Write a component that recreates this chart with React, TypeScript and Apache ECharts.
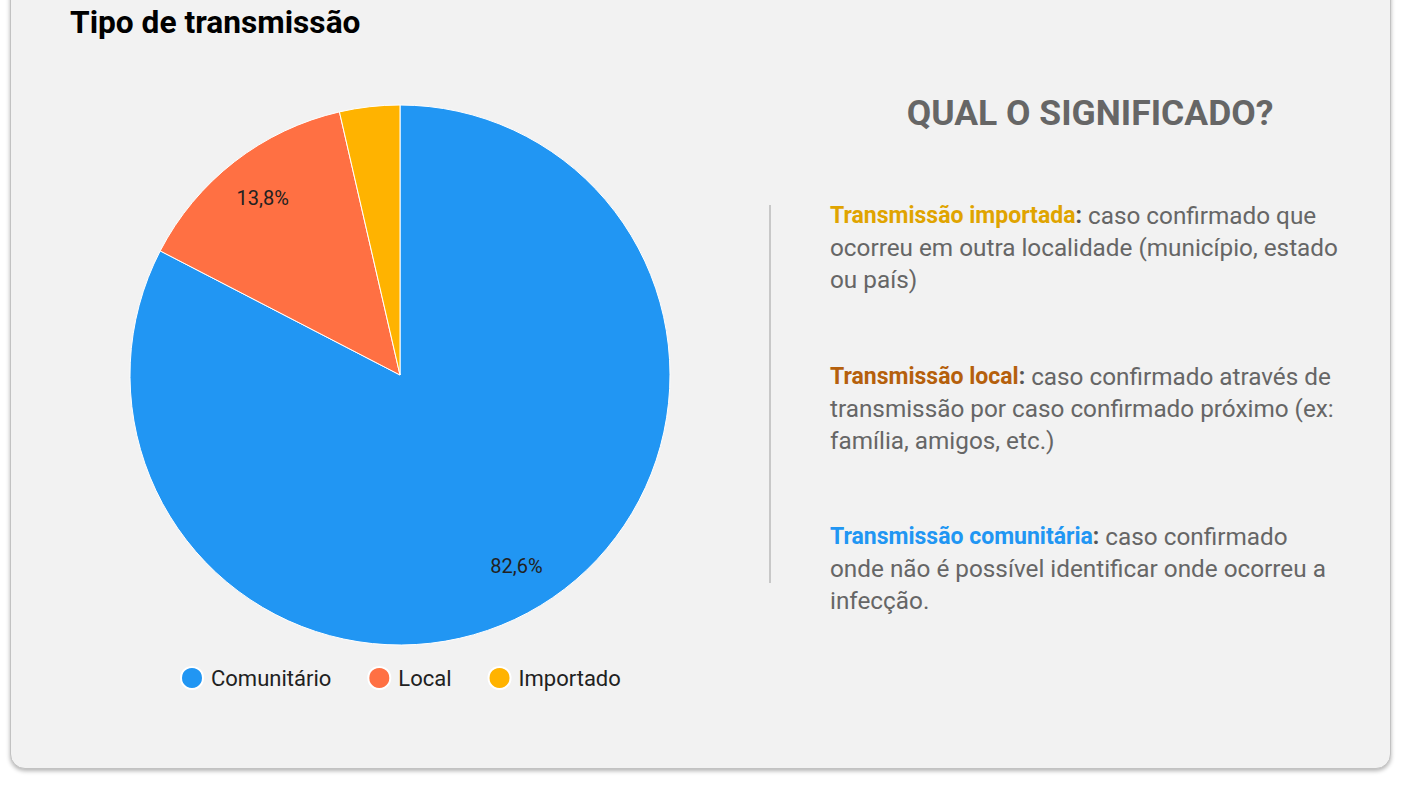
import React, { useEffect, useRef } from "react";
import * as echarts from "echarts";

const categories = ["Comunitário", "Local", "Importado"];
const values = [82.6, 13.8, 3.6];
const colors = ["#2196f3", "#ff7043", "#ffb300"];
const showLabel = [true, true, false];

const title = "Tipo de transmissão";
const sideTitle = "QUAL O SIGNIFICADO?";
const paragraphs = [
  { key: "imp", head: "Transmissão importada", lines: ["caso confirmado que", "ocorreu em outra localidade (município, estado", "ou país)"] },
  { key: "loc", head: "Transmissão local", lines: ["caso confirmado através de", "transmissão por caso confirmado próximo (ex:", "família, amigos, etc.)"] },
  { key: "com", head: "Transmissão comunitária", lines: ["caso confirmado", "onde não é possível identificar onde ocorreu a", "infecção."] },
];
const headColors: Record<string, string> = { imp: "#e0a400", loc: "#b5600c", com: "#2196f3" };

const FONT = "Roboto, 'Noto Sans', sans-serif";

export default function App() {
  const ref = useRef<HTMLDivElement>(null);
  useEffect(() => {
    if (!ref.current) return;
    const chart = echarts.init(ref.current, undefined, { renderer: "svg" });
    const baseData = categories.map((n, i) => ({ name: n, value: values[i], itemStyle: { color: colors[i] } }));
    const labelData = categories.map((n, i) => ({
      name: n,
      value: values[i],
      itemStyle: { color: "rgba(0,0,0,0)", borderWidth: 0 },
      label: { show: showLabel[i] },
    }));
    const paraTops = [199, 360, 520];
    const paraGraphics = paragraphs.map((p, i) => {
      const rest = p.lines.slice(1).map((l) => `{t|${l}}`).join("\n");
      const text = `{${p.key}|${p.head}}{c|:}{t| ${p.lines[0]}}\n${rest}`;
      const rich: any = {
        t: { fontFamily: FONT, fontSize: 24.3, fill: "#666666", lineHeight: 32 },
        c: { fontFamily: FONT, fontSize: 23, fontWeight: "bold", fill: "#555555", lineHeight: 32 },
      };
      rich[p.key] = { fontFamily: FONT, fontSize: 23, fontWeight: "bold", fill: headColors[p.key], lineHeight: 32 };
      return {
        type: "text",
        x: 830,
        y: paraTops[i],
        style: { text, rich, align: "left", verticalAlign: "top" },
      };
    });
    chart.setOption({
      animation: false,
      backgroundColor: "transparent",
      title: {
        text: title,
        left: 65,
        top: 1,
        textStyle: { fontFamily: FONT, fontSize: 31.7, fontWeight: "bold", color: "#000000" },
      },
      legend: {
        data: categories,
        left: 180,
        top: 666,
        padding: 0,
        icon: "circle",
        itemWidth: 22,
        itemHeight: 22,
        itemGap: 36,
        textStyle: { fontFamily: FONT, fontSize: 22, color: "#212121", padding: [0, 0, 0, 3] },
      },
      graphic: [
        {
          type: "text",
          x: 1090,
          y: 113,
          style: {
            text: sideTitle,
            fontFamily: FONT,
            fontSize: 35.5,
            fontWeight: "bold",
            fill: "#666666",
            align: "center",
            verticalAlign: "middle",
          },
        },
        {
          type: "line",
          shape: { x1: 770, y1: 205, x2: 770, y2: 583 },
          style: { stroke: "#c8c8c8", lineWidth: 2 },
        },
        ...paraGraphics,
      ],
      series: [
        {
          type: "pie",
          center: [400, 375],
          radius: [0, 270],
          startAngle: 90,
          clockwise: true,
          silent: true,
          label: { show: false },
          labelLine: { show: false },
          itemStyle: { borderColor: "#ffffff", borderWidth: 1 },
          data: baseData,
        },
        {
          type: "pie",
          center: [400, 375],
          radius: [172, 270],
          startAngle: 90,
          clockwise: true,
          silent: true,
          legendHoverLink: false,
          label: {
            show: true,
            position: "inside",
            fontFamily: FONT,
            fontSize: 20,
            color: "#212121",
            formatter: (p: any) => `${p.percent.toFixed(1).replace(".", ",")}%`,
          },
          labelLine: { show: false },
          data: labelData,
        },
      ],
    });
    return () => chart.dispose();
  }, []);
  return (
    <div style={{ position: "fixed", left: 0, top: 0, width: 1413, height: 801, background: "#ffffff", overflow: "hidden" }}>
      <div
        style={{
          position: "absolute",
          left: 10,
          top: -20,
          width: 1379,
          height: 787,
          background: "#f2f2f2",
          border: "1px solid #c2c2c2",
          borderRadius: 15,
          boxShadow: "0 2px 4px rgba(0,0,0,0.3)",
        }}
      />
      <div ref={ref} style={{ position: "absolute", left: 0, top: 0, width: 1413, height: 801 }} />
    </div>
  );
}
